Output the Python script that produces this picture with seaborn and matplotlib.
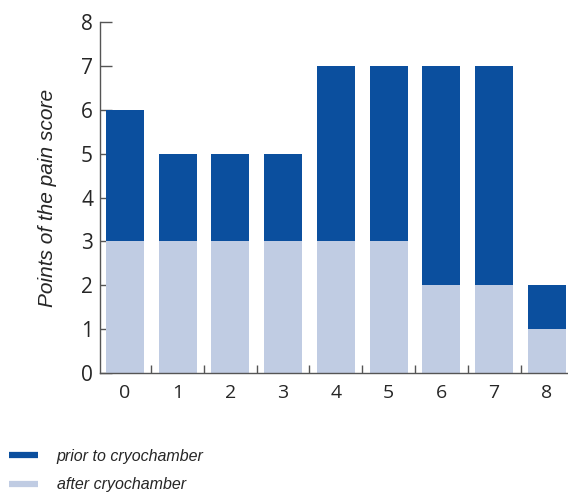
import matplotlib
matplotlib.use("Agg")
import matplotlib.pyplot as plt
from matplotlib.lines import Line2D
import seaborn as sns
import pandas as pd

scores = ["0", "1", "2", "3", "4", "5", "6", "7", "8"]
prior = [6, 5, 5, 5, 7, 7, 7, 7, 2]
after = [3, 3, 3, 3, 3, 3, 2, 2, 1]

dark = "#0b4f9e"
light = "#c0cce3"

sns.set_style("white")
plt.rcParams["font.family"] = ["Open Sans", "DejaVu Sans"]

df = pd.DataFrame({"score": scores, "prior": prior, "after": after})

fig = plt.figure(figsize=(5.68, 4.94), dpi=100)
ax = fig.add_axes([0.176, 0.245, 0.824, 0.71])

sns.barplot(data=df, x="score", y="prior", color=dark, width=0.72,
            saturation=1, linewidth=0, ax=ax)
sns.barplot(data=df, x="score", y="after", color=light, width=0.72,
            saturation=1, linewidth=0, ax=ax)

ax.set_ylim(0, 8)
ax.set_xlim(-0.47, 8.4)
ax.set_yticks(range(0, 9))
ax.tick_params(axis="y", left=True, direction="in", length=8.5, width=1,
               color="#555555", labelsize=15, pad=5)
ax.set_xticks([i + 0.5 for i in range(8)], minor=True)
ax.tick_params(axis="x", which="major", bottom=False, length=0, labelsize=14,
               pad=8)
ax.tick_params(axis="x", which="minor", bottom=True, direction="in",
               length=6, width=1, color="#555555")

for side in ["top", "right"]:
    ax.spines[side].set_visible(False)
for side in ["left", "bottom"]:
    ax.spines[side].set_color("#555555")
    ax.spines[side].set_linewidth(1)

ax.set_xlabel("")
ax.set_ylabel("Points of the pain score", fontsize=15, style="italic",
              family="Liberation Sans", labelpad=17)

handles = [Line2D([], [], color=dark, lw=4.5, solid_capstyle="butt"),
           Line2D([], [], color=light, lw=4.5, solid_capstyle="butt")]
fig.legend(handles, ["prior to cryochamber", "after cryochamber"],
           loc="lower left", bbox_to_anchor=(-0.01, -0.026), frameon=False,
           handlelength=1.85, handletextpad=1.15, labelspacing=0.85,
           prop={"family": "Liberation Sans", "style": "italic", "size": 11.5})

fig.savefig("out.png", dpi=100)
